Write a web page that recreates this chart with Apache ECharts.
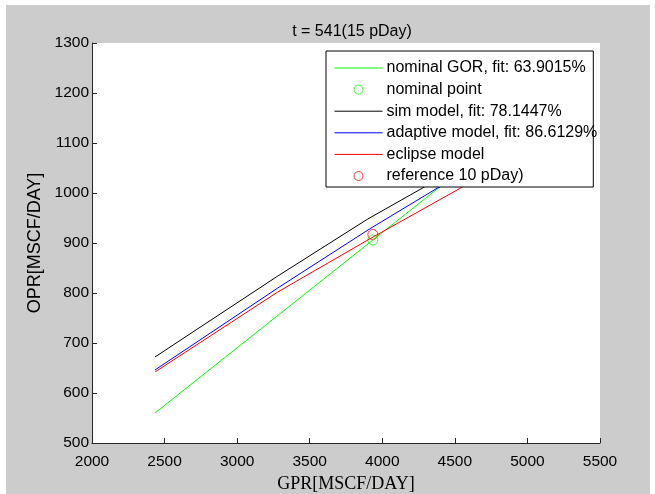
<!DOCTYPE html>
<html>
<head>
<meta charset="utf-8">
<script src="https://cdn.jsdelivr.net/npm/echarts@6/dist/echarts.min.js"></script>
<style>
	html, body { margin: 0; padding: 0; background: #fff; }
	#fig { position: absolute; left: 6px; top: 5px; width: 644px; height: 489px; background: #cccccc; }
	#chart { position: absolute; left: 0; top: 0; width: 655px; height: 494px; }
</style>
</head>
<body>
<div id="fig"></div>
<div id="chart"></div>
<script>
	//曲线数据 [GPR, OPR]
	var nominalGor = [[2434, 560], [3935, 906], [4600, 1059]];
	var nominalPoint = [[3935, 906]];
	var simModel = [[2434, 672], [3280, 834], [3900, 948], [4290, 1012], [4550, 1056]];
	var adaptiveModel = [[2434, 646], [3280, 810], [3912, 928], [4380, 1010], [4650, 1057]];
	var eclipseModel = [[2434, 642], [3280, 802], [3912, 908], [4540, 1010], [4800, 1053]];
	var referencePoint = [[3935, 917]];

	var seriesNames = ['nominal GOR, fit: 63.9015%', 'nominal point', 'sim model, fit: 78.1447%',
		'adaptive model, fit: 86.6129%', 'eclipse model', 'reference 10 pDay)'];
	var isLine = [true, false, true, true, true, false];

	var axisColor = '#262626';

	function lineSeries(name, data, color) {
		return {
			name: name,
			type: 'line',
			data: data,
			symbol: 'none',
			lineStyle: { color: color, width: 1 },
			itemStyle: { color: color },
			animation: false
		};
	}

	function pointSeries(name, data, color) {
		return {
			name: name,
			type: 'scatter',
			data: data,
			symbol: 'circle',
			symbolSize: 10,
			itemStyle: { color: 'rgba(0,0,0,0)', borderColor: color, borderWidth: 1 },
			animation: false
		};
	}

	//图例项：线条去掉中间的点
	var legendData = [];
	for (var i = 0; i < seriesNames.length; i++) {
		if (isLine[i]) {
			legendData.push({ name: seriesNames[i], itemStyle: { opacity: 0 }, lineStyle: { width: 1 } });
		} else {
			legendData.push({ name: seriesNames[i], itemStyle: { borderWidth: 1 } });
		}
	}

	var myChart = echarts.init(document.getElementById('chart'));
	var option = {
		backgroundColor: 'transparent',
		title: {
			text: 't = 541(15 pDay)',
			left: 347,
			top: 19,
			textAlign: 'center',
			textStyle: { fontFamily: 'Liberation Sans', fontSize: 16, fontWeight: 'normal', color: '#000' }
		},
		grid: {
			left: 92,
			right: 55,
			top: 43,
			bottom: 51,
			outerBoundsMode: 'none',
			show: true,
			backgroundColor: '#fff',
			borderWidth: 0
		},
		legend: {
			orient: 'vertical',
			left: 326,
			top: 51,
			width: 267,
			padding: [9, -4, 3, 8],
			backgroundColor: '#fff',
			borderColor: '#000',
			borderWidth: 1,
			itemWidth: 48,
			itemHeight: 9,
			itemGap: 5.6,
			align: 'left',
			lineStyle: { width: 1 },
			textStyle: { fontFamily: 'Liberation Sans', fontSize: 16, color: '#000', lineHeight: 16, padding: [0, 0, 0, -1] },
			data: legendData
		},
		xAxis: {
			type: 'value',
			min: 2000,
			max: 5500,
			interval: 500,
			name: 'GPR[MSCF/DAY]',
			nameLocation: 'middle',
			nameGap: 32,
			nameTextStyle: { fontFamily: 'Liberation Serif', fontSize: 18, color: '#000' },
			axisLine: { lineStyle: { color: axisColor, width: 1 } },
			axisTick: { inside: true, length: 5, lineStyle: { color: axisColor } },
			axisLabel: { fontFamily: 'Liberation Sans', fontSize: 15.5, color: '#000', margin: 11,
				formatter: function (v) { return String(v); } },
			splitLine: { show: false }
		},
		yAxis: {
			type: 'value',
			min: 500,
			max: 1300,
			interval: 100,
			name: 'OPR[MSCF/DAY]',
			nameLocation: 'middle',
			nameGap: 46,
			nameTextStyle: { fontFamily: 'Liberation Sans', fontSize: 18, color: '#000' },
			axisLine: { show: true, lineStyle: { color: axisColor, width: 1 } },
			axisTick: { show: true, inside: true, length: 5, lineStyle: { color: axisColor } },
			axisLabel: { fontFamily: 'Liberation Sans', fontSize: 15.5, color: '#000', margin: 3,
				formatter: function (v) { return String(v); } },
			splitLine: { show: false }
		},
		series: [
			lineSeries(seriesNames[0], nominalGor, '#00ff00'),
			pointSeries(seriesNames[1], nominalPoint, '#00ff00'),
			lineSeries(seriesNames[2], simModel, '#000000'),
			lineSeries(seriesNames[3], adaptiveModel, '#0000ff'),
			lineSeries(seriesNames[4], eclipseModel, '#ff0000'),
			pointSeries(seriesNames[5], referencePoint, '#ff0000')
		]
	};
	myChart.setOption(option);
</script>
</body>
</html>
